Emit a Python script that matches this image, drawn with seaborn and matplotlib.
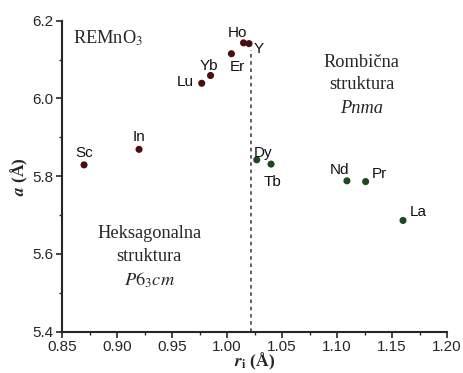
import numpy as np
import pandas as pd
import matplotlib
matplotlib.use("Agg")
import matplotlib.pyplot as plt
from matplotlib.ticker import MultipleLocator
import seaborn as sns

# Ionic radius r_i (Å) and lattice parameter a (Å) of REMnO3
elements = ["Sc", "In", "Lu", "Yb", "Er", "Ho", "Y", "Dy", "Tb", "Nd", "Pr", "La"]
radius = [0.870, 0.920, 0.977, 0.985, 1.004, 1.015, 1.020, 1.027, 1.040, 1.109, 1.126, 1.160]
lattice_a = [5.829, 5.869, 6.039, 6.059, 6.115, 6.143, 6.141, 5.842, 5.831, 5.788, 5.786, 5.686]
structure = ["hex"] * 7 + ["orth"] * 5
boundary_r = 1.022

# label offsets in pixels (dx, dy)
label_offsets = {
    "Sc": (0, 12), "In": (0, 12), "Lu": (-16, 1), "Yb": (-2, 9),
    "Er": (6, -13), "Ho": (-6, 10), "Y": (10, -5), "Dy": (6, 7),
    "Tb": (1, -18), "Nd": (-7, 11), "Pr": (14, 8), "La": (15, 8),
}

df = pd.DataFrame({"el": elements, "r": radius, "a": lattice_a, "s": structure})

sns.set_style("ticks")
plt.rcParams["font.family"] = ["Liberation Sans", "DejaVu Sans"]
plt.rcParams["mathtext.fontset"] = "stix"

fig = plt.figure(figsize=(4.63, 3.73), dpi=100)
ax = fig.add_axes([0.134, 0.111, 0.8315, 0.8335])

sns.scatterplot(data=df, x="r", y="a", hue="s",
                palette={"hex": "#4a0d0d", "orth": "#1d4a1d"},
                s=26, edgecolor="none", legend=False, ax=ax)

ax.vlines(boundary_r, 5.4, 6.125, color="#555555", lw=1.3, ls=(0, (2, 2)))

for el, x, y in zip(elements, radius, lattice_a):
    dx, dy = label_offsets[el]
    ax.annotate(el, (x, y), xytext=(dx, dy), textcoords="offset pixels",
                ha="center", va="center", fontsize=11, color="#111111")

serif = ["Liberation Serif", "DejaVu Serif"]
fs = 13.2
ax.text(0.029, 0.945, r"REMnO$_3$", transform=ax.transAxes, fontsize=fs,
        family=serif, ha="left", va="center")
ax.text(0.778, 0.864, "Rombična", transform=ax.transAxes, fontsize=fs, family=serif, ha="center", va="center")
ax.text(0.778, 0.796, "struktura", transform=ax.transAxes, fontsize=fs, family=serif, ha="center", va="center")
ax.text(0.778, 0.718, "Pnma", transform=ax.transAxes, fontsize=fs, family=serif, style="italic", ha="center", va="center")
ax.text(0.226, 0.316, "Heksagonalna", transform=ax.transAxes, fontsize=fs, family=serif, ha="center", va="center")
ax.text(0.226, 0.242, "struktura", transform=ax.transAxes, fontsize=fs, family=serif, ha="center", va="center")
ax.text(0.226, 0.164, r"$P6_3cm$", transform=ax.transAxes, fontsize=fs, ha="center", va="center")

ax.set_xlim(0.85, 1.20)
ax.set_ylim(5.4, 6.2)
ax.xaxis.set_major_locator(MultipleLocator(0.05))
ax.xaxis.set_minor_locator(MultipleLocator(0.025))
ax.yaxis.set_major_locator(MultipleLocator(0.2))
ax.yaxis.set_minor_locator(MultipleLocator(0.1))
ax.set_xticklabels([f"{v:.2f}" for v in ax.get_xticks()])
ax.set_yticklabels([f"{v:.1f}" for v in ax.get_yticks()])
ax.tick_params(which="major", length=4, width=1.2, labelsize=11, pad=2, direction="out")
ax.tick_params(which="minor", length=2.5, width=1.0, direction="out")
for side in ("top", "right"):
    ax.spines[side].set_visible(False)
for side in ("left", "bottom"):
    ax.spines[side].set_linewidth(1.5)

ax.set_xlabel(r"$\mathbfit{r}_\mathbf{i}$ (Å)", fontsize=12.5, fontweight="bold", family=serif, labelpad=-2)
ax.set_ylabel(r"$\mathbfit{a}$ (Å)", fontsize=12.5, fontweight="bold", family=serif, labelpad=2)

fig.savefig("out.png", dpi=100)
